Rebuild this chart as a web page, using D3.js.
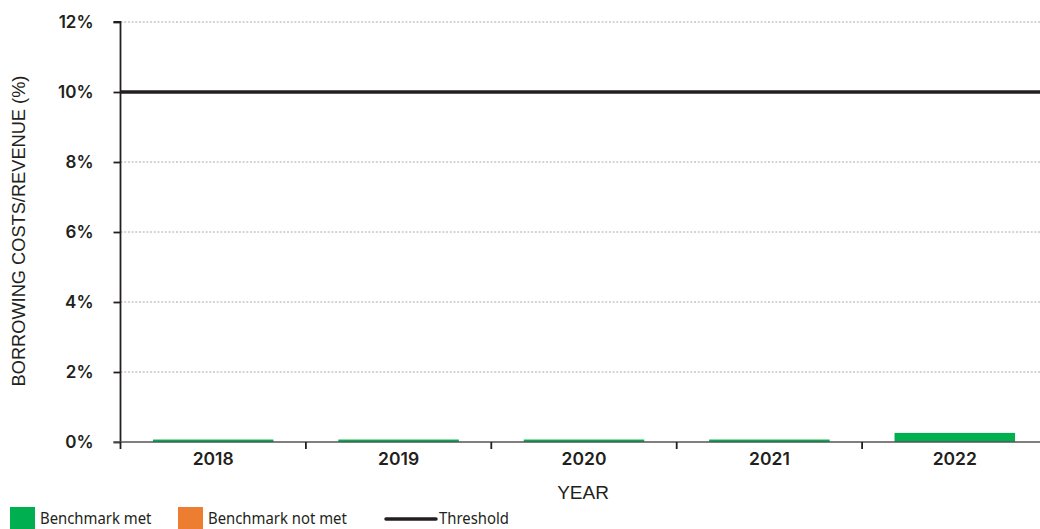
<!DOCTYPE html>
<html><head><meta charset="utf-8">
<script src="https://cdn.jsdelivr.net/npm/d3@7"></script>
<style>body{margin:0;background:#fff}svg{display:block}</style>
</head><body>
<svg id="c" width="1040" height="529"></svg>
<script>
const years = ["2018","2019","2020","2021","2022"];
const values = [0.07, 0.07, 0.07, 0.07, 0.26];
const status = ["met","met","met","met","met"];
const threshold = 10;
const yTicks = [0,2,4,6,8,10,12];
const legendItems = [{label:"Benchmark met", type:"met"},{label:"Benchmark not met", type:"notmet"},{label:"Threshold", type:"line"}];
const colors = {met:"#00AF4F", notmet:"#ED7D31"};

(function(){
const svg = d3.select("#c");
const mLeft = 120.5, mTop = 22, mBottom = 442;
const x = d3.scaleBand().domain(years).range([mLeft, mLeft + 185.4*5]).paddingInner(0.35).paddingOuter(0.175);
const y = d3.scaleLinear().domain([0,12]).range([mBottom, mTop]);

svg.append("g").selectAll("line").data(yTicks.filter(d=>d>0 && d!==threshold)).join("line")
  .attr("x1", mLeft).attr("x2", 1040).attr("y1", d=>y(d)).attr("y2", d=>y(d))
  .attr("stroke","#aaa").attr("stroke-width",1).attr("stroke-dasharray","2,1.7");

svg.append("g").selectAll("rect").data(years).join("rect")
  .attr("x", d=>x(d)).attr("width", x.bandwidth())
  .attr("y", (d,i)=>y(values[i])).attr("height",(d,i)=>mBottom - y(values[i]))
  .attr("fill",(d,i)=>colors[status[i]]);

svg.append("line").attr("x1",mLeft).attr("x2",1040).attr("y1",y(threshold)).attr("y2",y(threshold))
  .attr("stroke","#231f20").attr("stroke-width",3.5);

const ya = svg.append("g").attr("transform",`translate(${mLeft},0)`)
  .call(d3.axisLeft(y).tickValues(yTicks).tickFormat(d=>d+"%").tickSize(7).tickPadding(20));
ya.select(".domain").attr("stroke","#231f20").attr("stroke-width",1.8).attr("d",`M-7,${mTop}H0V${mBottom}`);
ya.selectAll(".tick line").attr("stroke","#231f20").attr("stroke-width",1.8);
ya.selectAll(".tick text").attr("font-family","Inter, Roboto, sans-serif").attr("font-weight",600)
  .attr("font-size","17px").attr("fill","#231f20");

const xa = svg.append("g").attr("transform",`translate(0,${mBottom})`)
  .call(d3.axisBottom(x).tickSize(0).tickPadding(11));
xa.select(".domain").attr("stroke","#555").attr("stroke-width",1.5).attr("d",`M${mLeft-7},0H1040`);
xa.selectAll(".tick text").attr("font-family","Inter, Roboto, sans-serif").attr("font-weight",600)
  .attr("font-size","17.5px").attr("fill","#231f20");
const bounds = years.map(d=>x(d) - x.step()*x.paddingInner()/2);
bounds[0] = mLeft;
svg.append("g").selectAll("line").data(bounds).join("line")
  .attr("x1",d=>d).attr("x2",d=>d).attr("y1",mBottom).attr("y2",mBottom+7)
  .attr("stroke","#231f20").attr("stroke-width",1.8);

svg.append("text").attr("x",583).attr("y",499).attr("text-anchor","middle")
  .attr("font-family","Liberation Sans, Arial, sans-serif").attr("font-size","19px").attr("fill","#231f20").text("YEAR");
svg.append("text").attr("transform","translate(25,231) rotate(-90) scale(0.96,1)").attr("text-anchor","middle")
  .attr("font-family","Liberation Sans, Arial, sans-serif").attr("font-size","19px").attr("fill","#231f20")
  .text("BORROWING COSTS/REVENUE (%)");

const lg = svg.append("g");
const lx = [10, 178, 385];
legendItems.forEach((it,i)=>{
  const tx = it.type==="line" ? lx[i]+54 : lx[i]+30;
  if(it.type==="line"){
    lg.append("line").attr("x1",lx[i]+1).attr("x2",lx[i]+51).attr("y1",519).attr("y2",519)
      .attr("stroke","#231f20").attr("stroke-width",3.5).attr("stroke-linecap","round");
  } else {
    lg.append("rect").attr("x",lx[i]).attr("y",507).attr("width",25).attr("height",22).attr("fill",colors[it.type]);
  }
  lg.append("text").attr("transform",`translate(${tx},524) scale(0.93,1)`).attr("font-family","Noto Sans, sans-serif")
    .attr("font-size","16px").attr("fill","#231f20").text(it.label);
});
})();
</script>
</body></html>
